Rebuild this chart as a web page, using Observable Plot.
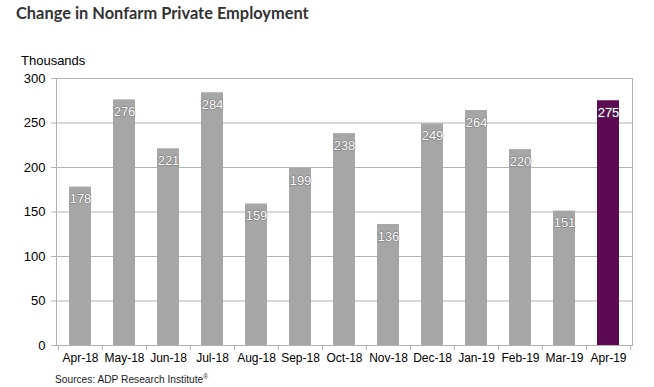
<!DOCTYPE html>
<html><head><meta charset="utf-8">
<script src="https://cdn.jsdelivr.net/npm/d3@7"></script>
<script src="https://cdn.jsdelivr.net/npm/@observablehq/plot@0.6"></script>
<style>
body{margin:0;background:#fff;}
#wrap{position:relative;width:654px;height:387px;font-family:"Liberation Sans",Arial,sans-serif;background:#fff;overflow:hidden;}
#chart{position:absolute;left:0;top:40px;}
#title{position:absolute;left:16px;top:3px;font-family:Lato,"Liberation Sans",sans-serif;font-weight:700;font-size:16.4px;line-height:20px;color:#333;white-space:nowrap;}
#unit{position:absolute;left:21px;top:53px;font-size:13px;line-height:16px;color:#000;}
#src{position:absolute;left:55px;top:373px;font-size:10.2px;line-height:13px;color:#222;white-space:nowrap;}
#src sup{font-size:6.5px;vertical-align:4px;line-height:0;}
</style></head><body>
<div id="wrap">
<div id="chart"></div>
<div id="title">Change in Nonfarm Private Employment</div>
<div id="unit">Thousands</div>
<div id="src">Sources: ADP Research Institute<sup>®</sup></div>
</div>
<script>
const months = ["Apr-18","May-18","Jun-18","Jul-18","Aug-18","Sep-18","Oct-18","Nov-18","Dec-18","Jan-19","Feb-19","Mar-19","Apr-19"];
const values = [178,276,221,284,159,199,238,136,249,264,220,151,275];
const highlight = "Apr-19";
const yTicks = [0,50,100,150,200,250,300];

const W = 654, H = 330, mL = 56, mR = 22, mT = 38, mB = 25;
const step = (W - mL - mR) / months.length;
const data = months.map((m, i) => ({month: m, value: values[i]}));
const grey = "#a6a6a6", purple = "#5c0b53", lineC = "#b3b3b3";

const chart = Plot.plot({
  width: W, height: H,
  marginLeft: mL, marginRight: mR, marginTop: mT, marginBottom: mB,
  style: {fontFamily: '"Liberation Sans", Arial, sans-serif', fontSize: "13px", color: "#000", background: "transparent", overflow: "visible"},
  x: {domain: months, paddingInner: 0.5, paddingOuter: 0.25},
  y: {domain: [0, 300]},
  marks: [
    Plot.gridY(yTicks, {stroke: lineC, strokeOpacity: 1}),
    Plot.barY(data, {filter: d => d.month !== highlight, x: "month", y: "value", fill: grey}),
    Plot.barY(data, {filter: d => d.month === highlight, x: "month", y: "value", fill: purple}),
    Plot.frame({stroke: lineC}),
    Plot.axisY(yTicks, {tickSize: 5, tickPadding: 6, label: null, stroke: lineC, fill: "#000", fontSize: 13}),
    Plot.axisX({tickSize: 0, tickPadding: 8, label: null, fill: "#000", fontSize: 12}),
    Plot.ruleX(months, {x: d => d, dx: -step / 2, y1: 0, y2: -6, stroke: lineC}),
    Plot.ruleX([months[months.length - 1]], {x: d => d, dx: step / 2, y1: 0, y2: -6, stroke: lineC}),
    Plot.text(data, {x: "month", y: "value", text: d => String(d.value), dy: 12, fill: "#fff", stroke: "#555", strokeWidth: 1.2, strokeOpacity: 0.6, paintOrder: "stroke", fontSize: 13})
  ]
});
document.getElementById("chart").appendChild(chart);
</script>
</body></html>
